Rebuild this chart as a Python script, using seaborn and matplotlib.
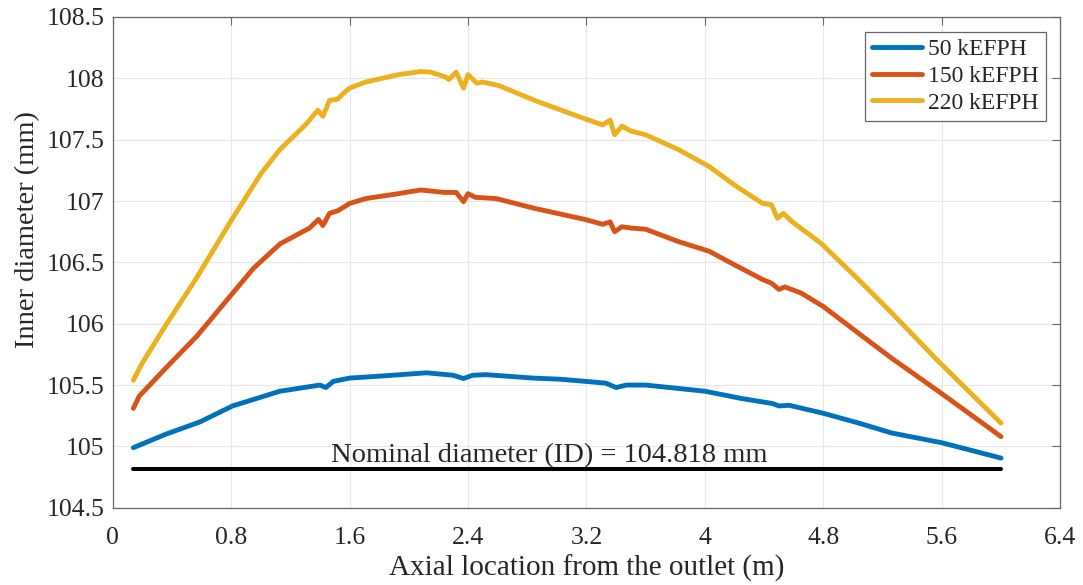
import numpy as np
import pandas as pd
import matplotlib
matplotlib.use("Agg")
import matplotlib.pyplot as plt
import seaborn as sns

# ---- data ----
x_220 = [0.14, 0.20, 0.36, 0.56, 0.80, 1.00, 1.13, 1.31, 1.385, 1.42, 1.465, 1.52, 1.56, 1.60, 1.71,
         1.82, 1.93, 2.08, 2.15, 2.25, 2.27, 2.32, 2.37, 2.40, 2.46, 2.50, 2.61, 2.85, 3.19, 3.31,
         3.36, 3.39, 3.44, 3.50, 3.60, 3.82, 4.03, 4.20, 4.39, 4.45, 4.49, 4.53, 4.59, 4.78, 5.02,
         5.26, 5.58, 6.00]
y_220 = [105.54, 105.68, 105.99, 106.36, 106.84, 107.22, 107.42, 107.63, 107.74, 107.69, 107.82,
         107.83, 107.88, 107.92, 107.97, 108.00, 108.03, 108.055, 108.05, 108.01, 107.99, 108.05,
         107.92, 108.03, 107.96, 107.97, 107.94, 107.82, 107.67, 107.62, 107.66, 107.54, 107.61,
         107.57, 107.54, 107.42, 107.28, 107.13, 106.98, 106.97, 106.86, 106.90, 106.83, 106.66,
         106.38, 106.09, 105.69, 105.19]

x_150 = [0.14, 0.18, 0.36, 0.57, 0.77, 0.95, 1.13, 1.33, 1.39, 1.42, 1.465, 1.52, 1.60, 1.71, 1.93,
         2.08, 2.24, 2.32, 2.37, 2.40, 2.45, 2.59, 2.85, 3.19, 3.31, 3.36, 3.39, 3.44, 3.50, 3.60,
         3.82, 4.03, 4.20, 4.39, 4.45, 4.50, 4.54, 4.65, 4.80, 5.04, 5.26, 5.60, 6.00]
y_150 = [105.31, 105.41, 105.64, 105.90, 106.19, 106.45, 106.65, 106.78, 106.85, 106.80, 106.90,
         106.92, 106.98, 107.02, 107.06, 107.09, 107.07, 107.07, 106.995, 107.06, 107.03, 107.02,
         106.94, 106.85, 106.81, 106.83, 106.75, 106.79, 106.78, 106.77, 106.67, 106.59, 106.48,
         106.36, 106.33, 106.28, 106.30, 106.25, 106.14, 105.92, 105.72, 105.43, 105.08]

x_50 = [0.14, 0.36, 0.59, 0.81, 1.13, 1.40, 1.44, 1.49, 1.60, 1.83, 2.12, 2.30, 2.37, 2.43, 2.52,
        2.84, 3.02, 3.33, 3.40, 3.47, 3.60, 4.00, 4.25, 4.455, 4.50, 4.57, 4.80, 5.04, 5.26, 5.60, 6.00]
y_50 = [104.99, 105.10, 105.20, 105.33, 105.45, 105.50, 105.48, 105.53, 105.557, 105.575, 105.60,
        105.58, 105.553, 105.58, 105.585, 105.557, 105.548, 105.516, 105.48, 105.50, 105.50, 105.45,
        105.39, 105.35, 105.33, 105.335, 105.27, 105.19, 105.11, 105.03, 104.905]

series_labels = ["50 kEFPH", "150 kEFPH", "220 kEFPH"]
nominal_x = [0.14, 6.00]
nominal_y = [104.818, 104.818]
nominal_text = "Nominal diameter (ID) = 104.818 mm"

x_ticks = [0, 0.8, 1.6, 2.4, 3.2, 4, 4.8, 5.6, 6.4]
y_ticks = [104.5, 105, 105.5, 106, 106.5, 107, 107.5, 108, 108.5]
x_tick_labels = ["0", "0.8", "1.6", "2.4", "3.2", "4", "4.8", "5.6", "6.4"]
y_tick_labels = ["104.5", "105", "105.5", "106", "106.5", "107", "107.5", "108", "108.5"]

# ---- style ----
sns.set_style("whitegrid")
plt.rcParams['font.family'] = ['Liberation Serif', 'DejaVu Serif']

colors = ["#0072BD", "#D95319", "#EDB120"]
text_color = "#262626"

fig = plt.figure(figsize=(10.83, 5.85), dpi=100)
ax = fig.add_axes([0.104, 0.132, 0.875, 0.839])

for xs, ys, lab, c in zip([x_50, x_150, x_220], [y_50, y_150, y_220], series_labels, colors):
    df = pd.DataFrame({"x": xs, "y": ys})
    sns.lineplot(data=df, x="x", y="y", ax=ax, color=c, linewidth=3.5, label=lab,
                 estimator=None, sort=False)

sns.lineplot(x=nominal_x, y=nominal_y, ax=ax, color="black", linewidth=2.9, legend=False)
ax.text(2.95, 104.875, nominal_text, ha="center", va="baseline", fontsize=20.5, color=text_color)

ax.set_xlim(0, 6.4)
ax.set_ylim(104.5, 108.5)
ax.set_xticks(x_ticks)
ax.set_xticklabels(x_tick_labels)
ax.set_yticks(y_ticks)
ax.set_yticklabels(y_tick_labels)
ax.set_xlabel("Axial location from the outlet (m)", fontsize=21, color=text_color, labelpad=4)
ax.set_ylabel("Inner diameter (mm)", fontsize=20.5, color=text_color)
ax.yaxis.set_label_coords(-0.077, 0.566)

ax.grid(True, color="#e6e6e6", linewidth=0.8)
ax.tick_params(axis="both", which="both", direction="in", length=6, width=0.8, color="#666666",
               labelsize=18.5, labelcolor=text_color, top=True, right=True)
ax.tick_params(axis="x", pad=14)
ax.tick_params(axis="y", pad=6)
for s in ax.spines.values():
    s.set_visible(True)
    s.set_color("#666666")
    s.set_linewidth(0.9)

leg = ax.legend(loc="upper right", fontsize=17, frameon=True, fancybox=False,
                handlelength=2.1, handletextpad=0.25, borderpad=0.3, labelspacing=0.22,
                borderaxespad=0.62)
leg.get_frame().set_edgecolor("#666666")
leg.get_frame().set_linewidth(0.9)
leg.get_frame().set_alpha(1)
for line in leg.get_lines():
    line.set_linewidth(3.5)

fig.savefig("out.png", dpi=100)
